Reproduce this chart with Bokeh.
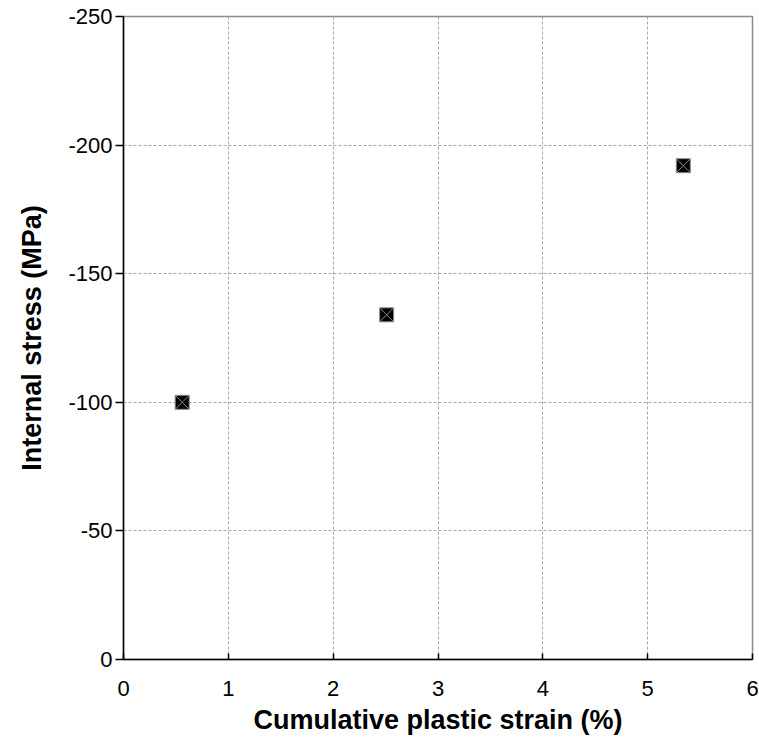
from bokeh.plotting import figure
from bokeh.models import Range1d, FixedTicker
from bokeh.embed import file_html
from bokeh.resources import INLINE

strain = [0.56, 2.51, 5.34]
stress = [-100, -134, -192]
x_ticks = [0, 1, 2, 3, 4, 5, 6]
y_ticks = [0, -50, -100, -150, -200, -250]
y_tick_labels = ["0", "-50", "-100", "-150", "-200", "-250"]

p = figure(width=759, height=747, output_backend="svg", toolbar_location=None,
           x_range=Range1d(0, 6), y_range=Range1d(0, -250),
           min_border_left=123, min_border_right=7, min_border_top=16, min_border_bottom=88)

p.scatter(strain, stress, marker="square_x", size=14, fill_color="black",
          line_color="#8a8a8a", line_width=1)

for ax in (p.xaxis, p.yaxis):
    ax.axis_line_color = "black"
    ax.axis_line_width = 1.5
    ax.major_tick_line_color = "black"
    ax.major_tick_line_width = 1.5
    ax.minor_tick_line_color = None
    ax.major_label_text_font = "Liberation Sans"
    ax.major_label_text_font_size = "22px"
    ax.major_label_text_color = "black"
    ax.axis_label_text_font = "Liberation Sans"
    ax.axis_label_text_font_style = "bold"
    ax.axis_label_text_font_size = "27px"
    ax.axis_label_text_color = "black"

p.xaxis.ticker = FixedTicker(ticks=x_ticks)
p.yaxis.ticker = FixedTicker(ticks=y_ticks)
p.yaxis.major_label_overrides = {t: s for t, s in zip(y_ticks, y_tick_labels)}
p.xaxis.major_tick_in = 6
p.xaxis.major_tick_out = 0
p.xaxis.major_label_standoff = 21
p.xaxis.axis_label = "Cumulative plastic strain (%)"
p.xaxis.axis_label_standoff = 6
p.yaxis.major_tick_in = 0
p.yaxis.major_tick_out = 8
p.yaxis.major_label_standoff = 3
p.yaxis.axis_label = "Internal stress (MPa)"
p.yaxis.axis_label_standoff = 18

p.grid.grid_line_color = "#a6a6a6"
p.grid.grid_line_dash = "3 2"
p.grid.grid_line_width = 1

p.outline_line_color = "#8c8c8c"
p.outline_line_width = 1.5
p.background_fill_color = "white"
p.border_fill_color = "white"

open("out.html", "w").write(file_html(p, INLINE))
